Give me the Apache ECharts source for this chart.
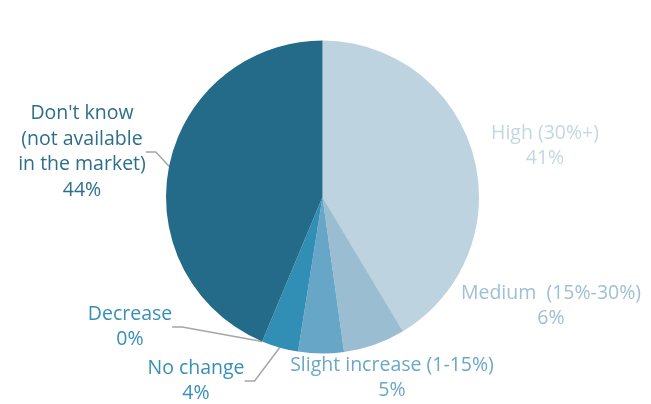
<!DOCTYPE html>
<html>
<head>
<meta charset="utf-8">
<script src="https://cdn.jsdelivr.net/npm/echarts@6/dist/echarts.min.js"></script>
<style>
html,body{margin:0;padding:0;background:#fff;}
#chart{width:651px;height:404px;}
</style>
</head>
<body>
<div id="chart"></div>
<script>
const categories = ['High (30%+)', 'Medium  (15%-30%)', 'Slight increase (1-15%)', 'No change', 'Decrease', "Don't know\n(not available\nin the market)"];
const values = [41.4, 6.4, 4.7, 3.8, 0, 43.7];
const colors = ['#bdd3e0', '#9bbdd2', '#67a6c6', '#318eb5', '#2b7fa3', '#246b89'];
const labelColors = ['#c3d7e3', '#9fc0d4', '#6aa8c7', '#3690b6', '#3690b6', '#2c6e8c'];
const showLine = [false, false, false, true, true, true];
const labelPos = [[545, 146], [551, 306], [392, 378], [196, 381], [130, 327], [82, 152]];

const chart = echarts.init(document.getElementById('chart'));
chart.setOption({
  animation: false,
  series: [{
    type: 'pie',
    center: [322.5, 197],
    radius: [0, 156.5],
    startAngle: 90,
    clockwise: true,
    avoidLabelOverlap: false,
    data: categories.map((c, i) => ({
      name: c,
      value: values[i],
      itemStyle: { color: colors[i] },
      label: { color: labelColors[i] },
      labelLine: { show: showLine[i] }
    })),
    label: {
      show: true,
      fontFamily: 'Open Sans',
      fontSize: 19.5,
      lineHeight: 25.5,
      align: 'center',
      formatter: p => p.name + '\n' + Math.round(p.value) + '%'
    },
    labelLine: {
      length: 10,
      length2: 10,
      lineStyle: { color: '#a6a6a6', width: 1.5 }
    },
    labelLayout: p => ({
      x: labelPos[p.dataIndex][0],
      y: labelPos[p.dataIndex][1],
      align: 'center',
      verticalAlign: 'middle'
    })
  }]
});
</script>
</body>
</html>
